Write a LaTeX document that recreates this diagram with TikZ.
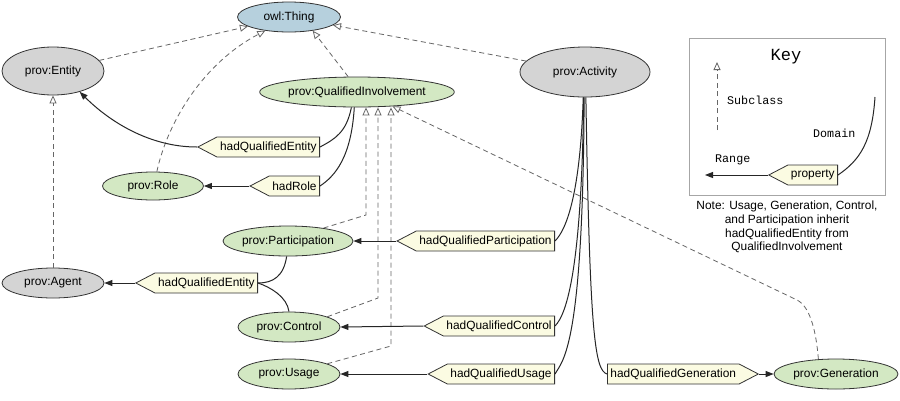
\documentclass[tikz,border=0pt]{standalone}
\usepackage{fontspec}
\setmainfont{Liberation Sans}
\newfontfamily\keyfont{Liberation Mono}
\usetikzlibrary{shapes.geometric,shapes.symbols,arrows.meta}
\definecolor{cgray}{HTML}{D4D4D4}
\definecolor{cgreen}{HTML}{D3E8C3}
\definecolor{cblue}{HTML}{B6D0DD}
\definecolor{clabel}{HTML}{FBFBE2}
\definecolor{cdash}{HTML}{666666}
\begin{document}
\begin{tikzpicture}[x=1pt,y=-1pt, font=\fontsize{11.9}{14}\selectfont,
  cls/.style n args={3}{ellipse, draw=black!80, line width=0.8pt, fill=#1, minimum width=#2pt, minimum height=#3pt, inner sep=0pt},
  lbl/.style={signal, draw=black!80, line width=0.8pt, fill=clabel, signal pointer angle=55, minimum height=20pt, inner xsep=3pt, inner ysep=0pt},
  sub/.style={draw=cdash, line width=0.8pt, dash pattern=on 5pt off 3.5pt, -{Triangle[open,length=8pt,width=7pt]}},
  rng/.style={draw=black!85, line width=1pt, -{Triangle[length=8pt,width=6pt]}},
  dom/.style={draw=black!85, line width=1pt},
  keytxt/.style={font=\keyfont\fontsize{11.7}{14}\selectfont, inner sep=0pt},
]
\useasboundingbox[fill=white] (0,0) rectangle (900,400);

% classes
\node[cls={cblue}{103}{30}] (thing) at (289,17) {owl:Thing};
\node[cls={cgray}{102}{48}] (entity) at (53,71) {prov:Entity};
\node[cls={cgreen}{186}{30}] (qi) at (357,92) {prov:QualifiedInvolvement};
\node[cls={cgray}{130}{50}] (activity) at (585,72) {prov:Activity};
\node[cls={cgreen}{101}{28}] (role) at (153,186) {prov:Role};
\node[cls={cgreen}{130}{30}] (part) at (288,241) {prov:Participation};
\node[cls={cgray}{102}{30}] (agent) at (53,283) {prov:Agent};
\node[cls={cgreen}{102}{30}] (ctrl) at (289,327) {prov:Control};
\node[cls={cgreen}{102}{30}] (usage) at (289,374) {prov:Usage};
\node[cls={cgreen}{124}{30}] (gen) at (836,374) {prov:Generation};

% properties
\node[lbl, signal to=west, anchor=east] (hqe1) at (320,147) {hadQualifiedEntity};
\node[lbl, signal to=west, anchor=east] (hrole) at (320,186) {hadRole};
\node[lbl, signal to=west, anchor=east] (hqp) at (555,241) {hadQualifiedParticipation};
\node[lbl, signal to=west, anchor=east] (hqc) at (555,326) {hadQualifiedControl};
\node[lbl, signal to=west, anchor=east] (hqu) at (555,374) {hadQualifiedUsage};
\node[lbl, signal to=east, anchor=west] (hqg) at (607,374) {hadQualifiedGeneration};
\node[lbl, signal to=west, anchor=east] (hqe2) at (258,283) {hadQualifiedEntity};

% subclass links
\draw[sub] (entity) -- (thing);
\draw[sub] (role.75) .. controls (168,120) and (205,62) .. (thing.210);
\draw[sub] (qi.120) -- (thing.-30);
\draw[sub] (activity) -- (thing);
\draw[sub] (agent) -- (entity);
\coordinate (pc) at (366,215);
\draw[sub] (part.20) -- (pc) -- (pc |- qi.south);
\coordinate (cc) at (378,298);
\draw[sub] (ctrl.15) -- (cc) -- (cc |- qi.south);
\coordinate (uc) at (391,346);
\draw[sub] (usage.15) -- (uc) -- (uc |- qi.south);
\coordinate (gc) at (797,300);
\draw[sub] (gen.140) .. controls +(-2,-25) and +(14,7) .. (gc) -- (qi.-22);

% domains
\draw[dom] (qi.-110) .. controls +(-5,25) and +(15,-8) .. (hqe1.east);
\draw[dom] (qi.-100) .. controls +(-3,50) and +(15,-10) .. (hrole.east);
\draw[dom] (activity.-94) .. controls +(-3,95) and +(12,-12) .. (hqp.east);
\draw[dom] (activity.-93) .. controls +(-2,170) and +(12,-12) .. (hqc.east);
\draw[dom] (activity.-92) .. controls +(-1,250) and +(8,-14) .. (hqu.east);
\draw[dom] (activity.-88) .. controls +(4,240) and +(-12,-4) .. (hqg.west);
\draw[dom] (part.-95) .. controls +(-3,20) and +(15,0) .. (hqe2.east);
\draw[dom] (ctrl.90) .. controls +(-2,-15) and +(12,4) .. (hqe2.east);

% ranges
\draw[rng] (hqe1.west) .. controls (150,147) and (110,122) .. (entity.-38);
\draw[rng] (hrole.west) -- (role.east);
\draw[rng] (hqp.west) -- (part.east);
\draw[rng] (hqc.west) -- (ctrl.east);
\draw[rng] (hqu.west) -- (usage.east);
\draw[rng] (hqg.east) -- (gen.west);
\draw[rng] (hqe2.west) -- (agent.east);

% key
\node[draw=black!35, fill=white, line width=0.8pt, minimum width=196pt, minimum height=157pt, anchor=north west, inner sep=0pt] (keybox) at (689,38) {};
\node[font=\keyfont\fontsize{17}{20}\selectfont] (keyt) at (786,57) {Key};
\coordinate (sb) at (717,130);
\coordinate (st) at (717,62);
\draw[sub] (sb) -- (st);
\node[keytxt, anchor=west] (subt) at (727,100) {Subclass};
\node[keytxt, anchor=west] (domt) at (813,133) {Domain};
\node[keytxt, anchor=west] (rngt) at (715,160) {Range};
\node[lbl, signal to=west, anchor=east] (prop) at (838,175) {property};
\coordinate (rngend) at (705,175);
\draw[rng] (prop.west) -- (rngend);
\coordinate (domend) at (875,97);
\draw[dom] (prop.east) .. controls +(22,-15) and +(-3,45) .. (domend);

% note
\node[align=center, font=\fontsize{11.9}{13.7}\selectfont, anchor=north, inner sep=2pt] (note) at (787,199) {Note: Usage, Generation, Control,\\and Participation inherit\\hadQualifiedEntity from\\QualifiedInvolvement};
\end{tikzpicture}
\end{document}
